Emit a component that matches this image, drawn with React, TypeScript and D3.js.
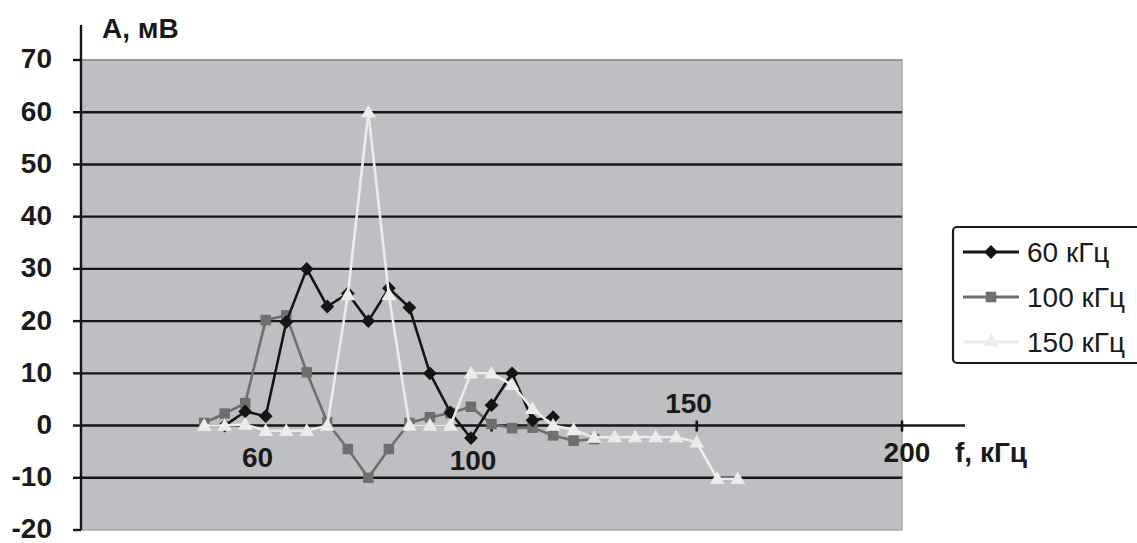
import React from "react";
import * as d3 from "d3";

// ---- data ----
const freqKHz = [30, 35, 40, 45, 50, 55, 60, 65, 70, 75, 80, 85, 90, 95, 100, 105, 110, 115, 120, 125, 130, 135, 140, 145, 150, 155, 160];
const series60: (number | null)[] = [null, 0, 2.7, 1.8, 19.8, 30, 22.8, 25.3, 20, 26.3, 22.6, 10, 2.5, -2.4, 3.9, 10, 1, 1.6];
const series100: (number | null)[] = [0.5, 2.3, 4.3, 20.2, 21.1, 10.2, 0.6, -4.5, -10, -4.5, 0.5, 1.6, 2.4, 3.6, 0.3, -0.5, -0.4, -1.9, -2.9, -2.6];
const series150: (number | null)[] = [0, 0, 0.2, -1, -1, -1, 0, 25, 60, 25, 0, 0, 0, 10, 10, 7.8, 3.2, 0, -0.8, -2.3, -2.2, -2.2, -2.2, -2.2, -3.2, -10.2, -10.2];
const yTicks = [70, 60, 50, 40, 30, 20, 10, 0, -10, -20];
const xTickLabels = ["60", "100", "150", "200"];
const xTickMarks = [100, 150, 200];
const legendNames = ["60 кГц", "100 кГц", "150 кГц"];

const W = 1137, H = 543;
const plot = { left: 81, right: 902, top: 60, bottom: 530 };

const x = d3.scaleLinear().domain([0, 200]).range([plot.left, plot.right]);
const y = d3.scaleLinear().domain([-20, 70]).range([plot.bottom, plot.top]);

// label layout (pixel offsets, hand placed like the original)
const xLabelLayout = [
  { at: 43, dy: 41 },
  { at: 95.5, dy: 44 },
  { at: 148, dy: -13 },
  { at: 201.2, dy: 36 },
];

const styles = [
  { color: "#151515", marker: "diamond" },
  { color: "#6f6f6f", marker: "square" },
  { color: "#ececec", marker: "triangle" },
];

function markerPath(kind: string) {
  if (kind === "diamond") return d3.symbol(d3.symbolSquare, 95)() as string;
  if (kind === "square") return d3.symbol(d3.symbolSquare, 110)() as string;
  return d3.symbol(d3.symbolTriangle, 95)() as string;
}

function Series({ values, idx }: { values: (number | null)[]; idx: number }) {
  const st = styles[idx];
  const pts = values
    .map((v, i) => ({ f: freqKHz[i], v }))
    .filter((p) => p.v !== null) as { f: number; v: number }[];
  const line = d3
    .line<{ f: number; v: number }>()
    .x((p) => x(p.f))
    .y((p) => y(p.v));
  const path = markerPath(st.marker);
  const rot = st.marker === "diamond" ? 45 : 0;
  return (
    <g>
      <path d={line(pts) || ""} fill="none" stroke={st.color} strokeWidth={2.6} strokeLinejoin="round" />
      {pts.map((p, i) => (
        <path
          key={i}
          d={path}
          fill={st.color}
          transform={`translate(${x(p.f)},${y(p.v) + (st.marker === "triangle" ? 1 : 0)}) rotate(${rot})`}
        />
      ))}
    </g>
  );
}

export default function App() {
  const font = "'Liberation Sans', Arial, sans-serif";
  const legend = { x: 953, y: 227, w: 200, h: 136 };
  return (
    <svg
      width={W}
      height={H}
      viewBox={`0 0 ${W} ${H}`}
      style={{ position: "absolute", left: 0, top: 0, background: "#ffffff" }}
      fontFamily={font}
    >
      <rect x={0} y={0} width={W} height={H} fill="#ffffff" />
      {/* plot area */}
      <rect
        x={plot.left}
        y={plot.top}
        width={plot.right - plot.left}
        height={plot.bottom - plot.top}
        fill="#bebfc3"
        stroke="#a8a9ad"
        strokeWidth={1.5}
      />
      {/* grid */}
      {yTicks
        .filter((t) => t < 70 && t > -20)
        .map((t) => (
          <line
            key={t}
            x1={plot.left}
            x2={t === 0 ? 965 : plot.right}
            y1={y(t)}
            y2={y(t)}
            stroke="#161616"
            strokeWidth={2.4}
          />
        ))}
      <line x1={plot.left} x2={plot.right} y1={y(70)} y2={y(70)} stroke="#8a8b8e" strokeWidth={1.6} />
      {/* y axis */}
      <line x1={plot.left} x2={plot.left} y1={25} y2={plot.bottom} stroke="#161616" strokeWidth={2.4} />
      {yTicks.map((t) => (
        <g key={t}>
          <line x1={73} x2={plot.left} y1={y(t)} y2={y(t)} stroke="#161616" strokeWidth={2.4} />
          <text
            x={52}
            y={y(t)}
            dy="0.3em"
            textAnchor="end"
            fontSize={28}
            fontWeight="bold"
            fill="#1a1a1a"
          >
            {t}
          </text>
        </g>
      ))}
      <text x={102} y={38} fontSize={28} fontWeight="bold" fill="#1a1a1a">
        A, мВ
      </text>
      {/* x tick marks */}
      {xTickMarks.map((t) => (
        <line key={t} x1={x(t)} x2={x(t)} y1={y(0) - 5} y2={y(0) + 6} stroke="#161616" strokeWidth={2.6} />
      ))}
      {xTickLabels.map((lab, i) => (
        <text
          key={lab}
          x={x(xLabelLayout[i].at)}
          y={y(0) + xLabelLayout[i].dy}
          textAnchor="middle"
          fontSize={28}
          fontWeight="bold"
          fill="#1a1a1a"
        >
          {lab}
        </text>
      ))}
      <text x={955} y={462} fontSize={28} fontWeight="bold" fill="#1a1a1a">
        f, кГц
      </text>
      {/* series */}
      <Series values={series100} idx={1} />
      <Series values={series60} idx={0} />
      <Series values={series150} idx={2} />
      {/* legend */}
      <rect
        x={legend.x}
        y={legend.y}
        width={legend.w}
        height={legend.h}
        rx={4}
        fill="#ffffff"
        stroke="#1a1a1a"
        strokeWidth={2.2}
      />
      {legendNames.map((name, i) => {
        const cy = legend.y + 25 + i * 45;
        const st = styles[i];
        return (
          <g key={name}>
            <line x1={963} x2={1019} y1={cy} y2={cy} stroke={st.color} strokeWidth={2.8} />
            <path
              d={markerPath(st.marker)}
              fill={st.color}
              transform={`translate(991,${cy}) rotate(${st.marker === "diamond" ? 45 : 0})`}
            />
            <text x={1027} y={cy} dy="0.36em" fontSize={28} fill="#1a1a1a">
              {name}
            </text>
          </g>
        );
      })}
    </svg>
  );
}
